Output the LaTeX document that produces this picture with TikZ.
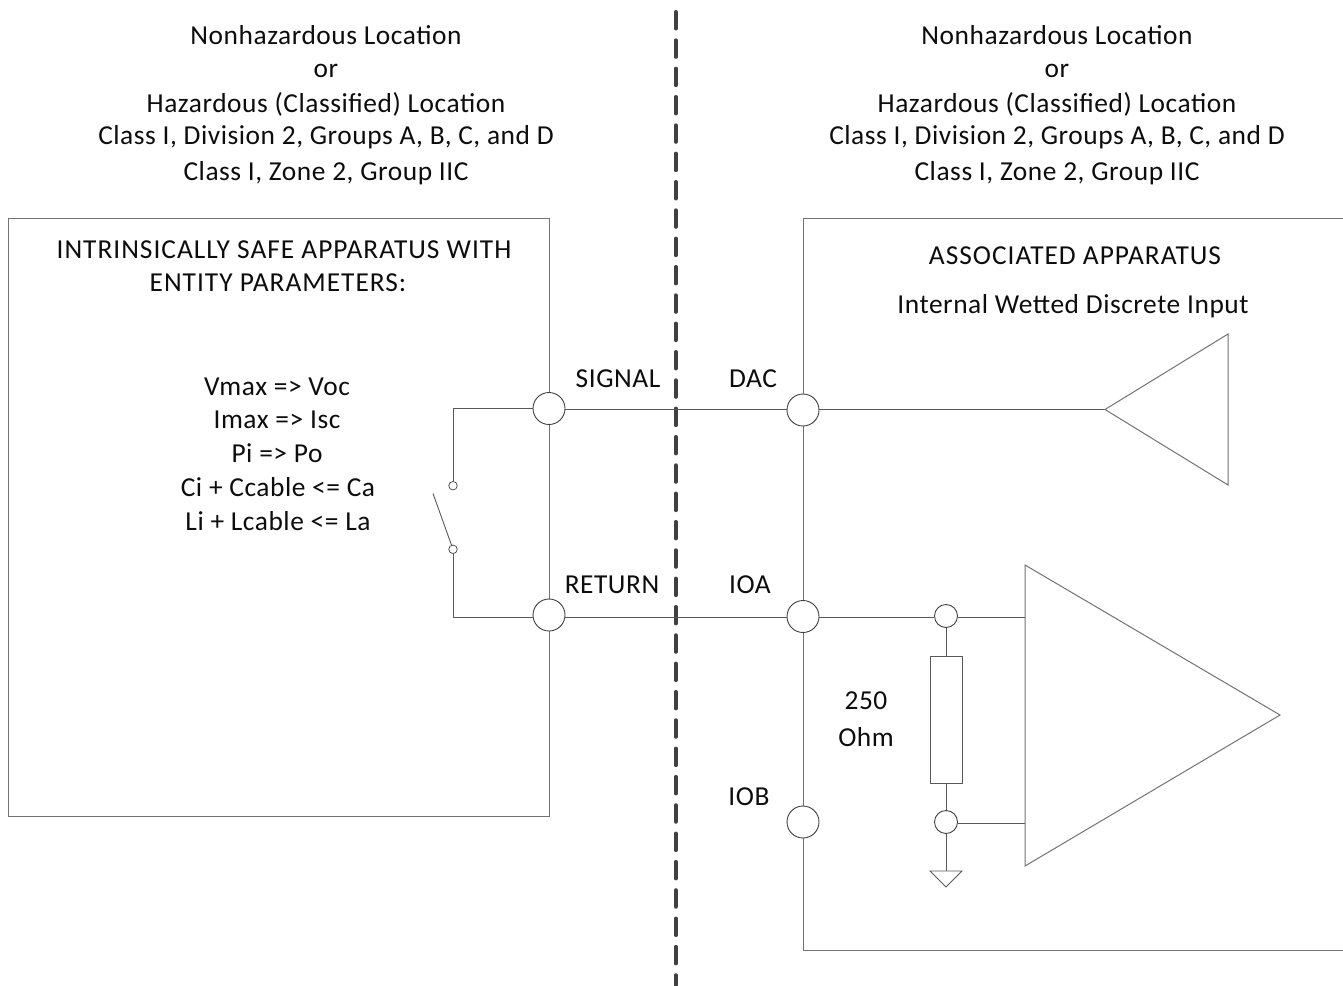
\documentclass[tikz,border=0pt]{standalone}
\usepackage{fontspec}
\setmainfont[LetterSpace=2]{Carlito}
\newfontfamily\capsfont[LetterSpace=3.6]{Carlito}
\begin{document}
\begin{tikzpicture}[x=1pt,y=-1pt,line width=0.9pt,
 lbl/.style={font=\fontsize{27.4}{27.4}\selectfont,inner sep=0pt,text=black!95},
 capslbl/.style={font=\capsfont\fontsize{27.4}{27.4}\selectfont,inner sep=0pt,text=black!95},
 term/.style={circle,draw=black!75,fill=white,minimum size=32pt,inner sep=0pt},
 small/.style={circle,draw=black!75,fill=white,minimum size=23pt,inner sep=0pt},
 tiny/.style={circle,draw=black!75,fill=white,minimum size=8.5pt,inner sep=0pt,line width=0.7pt},
 wire/.style={draw=black!65},
 rail/.style={draw=black!55,line width=1pt}]
\useasboundingbox (0,0) rectangle (1343,985);
\fill[white] (0,0) rectangle (1343,985);
\draw[line width=4pt,draw=black!75,line cap=round,dash pattern=on 16.5pt off 11.83pt] (675.7,12) -- (675.7,985);
\foreach \n/\y/\t in {a/35/Nonhazardous Location,b/71/or,c/104/Hazardous (Classified) Location,d/137/{Class I, Division 2, Groups A, B, C, and D},e/173/{Class I, Zone 2, Group IIC}}{
 \node[lbl] (l\n) at (326,\y) {\t};
 \node[lbl] (r\n) at (1057,\y) {\t};
}
\draw[rail] (549,218) -- (8,218) -- (8,816) -- (549,816) -- cycle;
\draw[rail] (1343,218) -- (803,218) -- (803,950) -- (1343,950);
\node[capslbl] (ia) at (284,250) {INTRINSICALLY SAFE APPARATUS WITH};
\node[capslbl] (ib) at (278,283) {ENTITY PARAMETERS:};
\node[capslbl] (aa) at (1075,256) {ASSOCIATED APPARATUS};
\node[lbl] (ab) at (1073,306) {Internal Wetted Discrete Input};
\node[lbl] (p1) at (277,387) {Vmax => Voc};
\node[lbl] (p2) at (277,420) {Imax => Isc};
\node[lbl] (p3) at (277,453) {Pi => Po};
\node[lbl] (p4) at (278,487) {Ci + Ccable <= Ca};
\node[lbl] (p5) at (278,521) {Li + Lcable <= La};
\node[lbl] (sig) at (618,379) {SIGNAL};
\node[lbl] (ret) at (612,585) {RETURN};
\node[lbl] (dac) at (753,379) {DAC};
\node[lbl] (ioa) at (750,585) {IOA};
\node[lbl] (iob) at (749,797) {IOB};
\node[lbl] (o1) at (866,701) {250};
\node[lbl] (o2) at (866,737) {Ohm};
\node[term] (ts) at (549,408.5) {};
\node[term] (tr) at (549,615) {};
\node[term] (td) at (803,410) {};
\node[term] (ti) at (803,616.5) {};
\node[term] (tb) at (803,822) {};
\coordinate (sw1) at (453,485.7);
\coordinate (sw2) at (453,549.3);
\coordinate (swfree) at (433,493.5);
\coordinate (bl) at (453,617);
\coordinate (tl) at (453,408.5);
\coordinate (amp) at (1105,409.5);
\node[tiny] (s1) at (sw1) {};
\node[tiny] (s2) at (sw2) {};
\draw[wire] (ts.west) -- (tl) -- (s1);
\draw[wire] (tr.west |- bl) -- (bl) -- (s2);
\draw[wire] (swfree) -- (s2);
\draw[wire] (ts.east |- amp) -- (td.west |- amp);
\draw[wire] (tr.east |- bl) -- (ti.west |- bl);
\draw[wire] (td.east |- amp) -- (amp);
\draw[rail] (amp) -- (1228,334) -- (1228,485) -- cycle;
\draw[rail] (1025,565) -- (1280,715) -- (1025,866) -- cycle;
\node[small] (j1) at (946,616) {};
\node[small] (j2) at (946,822) {};
\draw[wire] (ti.east |- bl) -- (j1.west |- bl);
\draw[wire] (j1.east |- bl) -- (1025,617);
\draw[wire] (j2.east |- 0,823) -- (1025,823);
\node[draw=black!65,fill=white,minimum width=32pt,minimum height=127pt,inner sep=0pt,line width=1pt] (res) at (946,719.5) {};
\draw[wire] (j1) -- (res);
\draw[wire] (res) -- (j2);
\coordinate (gnd) at (946,871);
\draw[wire] (j2) -- (gnd);
\draw[wire] (930,871) -- (962,871) -- (946,887) -- cycle;
\end{tikzpicture}
\end{document}
